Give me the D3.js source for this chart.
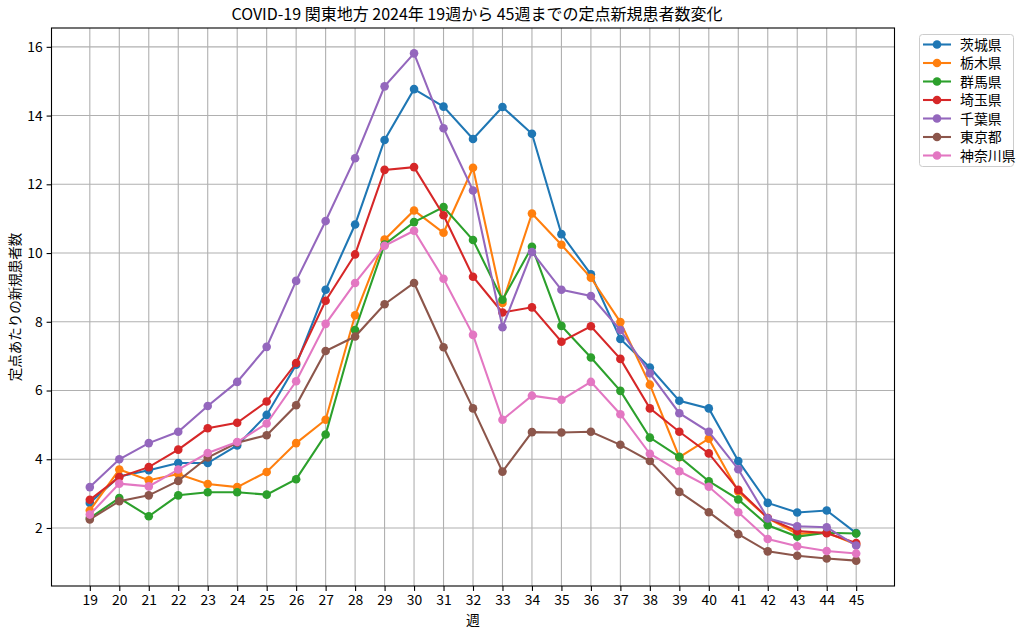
<!DOCTYPE html>
<html><head><meta charset="utf-8">
<script src="https://cdn.jsdelivr.net/npm/d3@7"></script>
<style>
html,body{margin:0;padding:0;background:#fff;}
text{font-family:"Noto Sans CJK JP","DejaVu Sans",sans-serif;fill:#000;}
</style></head>
<body><svg id="c" width="1024" height="634"></svg>
<script>
const weeks = [19,20,21,22,23,24,25,26,27,28,29,30,31,32,33,34,35,36,37,38,39,40,41,42,43,44,45];
const prefectures = ["茨城県","栃木県","群馬県","埼玉県","千葉県","東京都","神奈川県"];
const colors = ["#1f77b4","#ff7f0e","#2ca02c","#d62728","#9467bd","#8c564b","#e377c2"];
const ibaraki  = [2.73,3.50,3.68,3.89,3.89,4.40,5.29,6.75,8.93,10.83,13.29,14.77,14.26,13.32,14.25,13.47,10.55,9.38,7.50,6.67,5.70,5.48,3.95,2.73,2.45,2.51,1.85];
const tochigi  = [2.51,3.70,3.39,3.57,3.28,3.19,3.63,4.47,5.15,8.19,10.39,11.24,10.59,12.48,8.55,11.15,10.24,9.28,7.99,6.17,4.06,4.60,3.06,2.29,1.83,1.87,1.52];
const gunma    = [2.29,2.87,2.34,2.95,3.04,3.04,2.97,3.42,4.72,7.76,10.25,10.90,11.34,10.38,8.64,10.18,7.88,6.96,5.99,4.63,4.07,3.36,2.83,2.08,1.75,1.86,1.84];
const saitama  = [2.82,3.48,3.77,4.28,4.90,5.06,5.68,6.80,8.61,9.96,12.42,12.50,11.10,9.31,8.27,8.42,7.42,7.87,6.92,5.48,4.80,4.17,3.11,2.29,1.91,1.85,1.56];
const chiba    = [3.19,4.00,4.47,4.80,5.55,6.25,7.27,9.19,10.93,12.76,14.85,15.81,13.63,11.82,7.84,10.03,8.93,8.75,7.76,6.50,5.34,4.80,3.71,2.28,2.05,2.02,1.49];
const tokyo    = [2.25,2.78,2.95,3.37,4.05,4.48,4.70,5.57,7.15,7.57,8.51,9.13,7.26,5.48,3.64,4.79,4.78,4.80,4.42,3.95,3.05,2.46,1.82,1.32,1.19,1.11,1.05];
const kanagawa = [2.39,3.29,3.21,3.70,4.18,4.50,5.04,6.27,7.94,9.13,10.21,10.65,9.25,7.62,5.15,5.85,5.73,6.25,5.31,4.16,3.65,3.20,2.46,1.68,1.47,1.33,1.26];
const yTicks = [2,4,6,8,10,12,14,16];
const title = "COVID-19 関東地方 2024年 19週から 45週までの定点新規患者数変化";
const xLabel = "週";
const yLabel = "定点あたりの新規患者数";

const seriesValues = [ibaraki,tochigi,gunma,saitama,chiba,tokyo,kanagawa];
const series = prefectures.map((name,i)=>({name, color:colors[i], values:seriesValues[i]}));

const svg = d3.select("#c");
const L=51.5, R=894.5, T=28, B=586;
const allV = seriesValues.flat();
const vmin=d3.min(allV), vmax=d3.max(allV), vpad=(vmax-vmin)*0.05;
const x = d3.scaleLinear().domain([19-1.3,45+1.3]).range([L,R]);
const y = d3.scaleLinear().domain([vmin-vpad,vmax+vpad]).range([B,T]);

// grid
const g = svg.append("g");
g.selectAll(".gx").data(weeks).join("line")
  .attr("x1",d=>x(d)).attr("x2",d=>x(d)).attr("y1",T).attr("y2",B)
  .attr("stroke","#b0b0b0").attr("stroke-width",1.1);
g.selectAll(".gy").data(yTicks).join("line")
  .attr("y1",d=>y(d)).attr("y2",d=>y(d)).attr("x1",L).attr("x2",R)
  .attr("stroke","#b0b0b0").attr("stroke-width",1.1);

// axes
const xAxis = d3.axisBottom(x).tickValues(weeks).tickFormat(d3.format("d")).tickSizeInner(4.9).tickSizeOuter(0).tickPadding(4);
const yAxis = d3.axisLeft(y).tickValues(yTicks).tickFormat(d3.format("d")).tickSizeInner(4.9).tickSizeOuter(0).tickPadding(4);
const ax = svg.append("g").attr("transform",`translate(0,${B})`).call(xAxis);
const ay = svg.append("g").attr("transform",`translate(${L},0)`).call(yAxis);
[ax,ay].forEach(a=>{
  a.select(".domain").remove();
  a.selectAll("line").attr("stroke","#000").attr("stroke-width",1.1);
  a.selectAll("text").style("font-size","13.9px").attr("fill","#222");
});

// lines
const line = d3.line().x((d,i)=>x(weeks[i])).y(d=>y(d));
const sg = svg.append("g");
series.forEach(s=>{
  sg.append("path").attr("d",line(s.values)).attr("fill","none").attr("stroke",s.color).attr("stroke-width",2.08);
  sg.selectAll(null).data(s.values).join("circle")
    .attr("cx",(d,i)=>x(weeks[i])).attr("cy",d=>y(d)).attr("r",4.3).attr("fill",s.color);
});

// frame
svg.append("rect").attr("x",L).attr("y",T).attr("width",R-L).attr("height",B-T)
  .attr("fill","none").attr("stroke","#000").attr("stroke-width",1.1);

// titles
svg.append("text").attr("x",(L+R)/2+4).attr("y",20).attr("text-anchor","middle").style("font-size","16px").text(title);
svg.append("text").attr("x",(L+R)/2).attr("y",625).attr("text-anchor","middle").style("font-size","13.9px").text(xLabel);
svg.append("text").attr("transform",`translate(20,${(T+B)/2}) rotate(-90)`).attr("text-anchor","middle").style("font-size","13.5px").text(yLabel);

// legend
const lg = svg.append("g");
lg.append("rect").attr("x",919.5).attr("y",34.5).attr("width",94).attr("height",132).attr("rx",3)
  .attr("fill","#fff").attr("fill-opacity",0.8).attr("stroke","#ccc").attr("stroke-width",1);
series.forEach((s,i)=>{
  const yy = 44.5 + i*18.5;
  lg.append("line").attr("x1",923).attr("x2",951).attr("y1",yy).attr("y2",yy).attr("stroke",s.color).attr("stroke-width",2.08);
  lg.append("circle").attr("cx",937).attr("cy",yy).attr("r",4.3).attr("fill",s.color);
  lg.append("text").attr("x",960).attr("y",yy).attr("dy","0.36em").style("font-size","13.9px").text(s.name);
});
</script></body></html>
